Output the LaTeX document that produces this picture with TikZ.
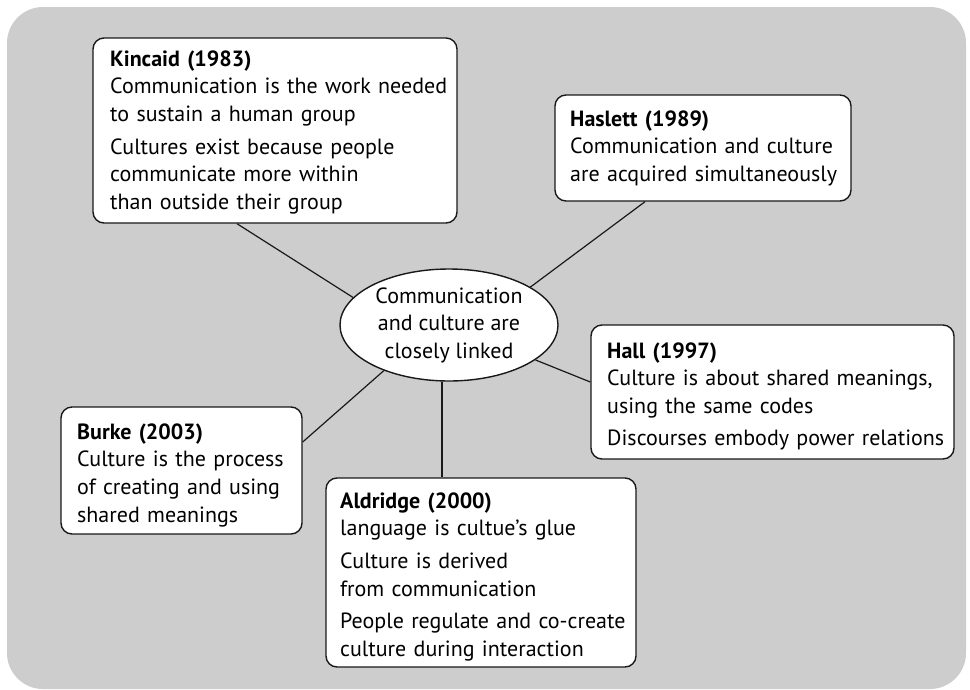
\documentclass[tikz,border=0pt]{standalone}
\usepackage{fontspec}
\setmainfont{PT Sans}
\usetikzlibrary{shapes.geometric}
\definecolor{panel}{RGB}{205,205,205}
\definecolor{ink}{RGB}{25,25,25}
\begin{document}
\begin{tikzpicture}[x=1pt,y=-1pt,
  card/.style={draw=ink, line width=1.4pt, fill=white, rounded corners=11pt,
    inner sep=0pt},
  txt/.style={anchor=base west, inner sep=0pt, align=left,
    font=\fontsize{22}{27.7}\selectfont},
  hub/.style={ellipse, draw=ink, line width=1.4pt, fill=white, inner sep=0pt,
    minimum width=218pt, minimum height=112pt, align=center,
    font=\fontsize{22}{27.5}\selectfont},
  link/.style={draw=ink, line width=1.2pt}]
\useasboundingbox (0,0) rectangle (970,689);
% grey panel
\fill[panel, rounded corners=36pt] (7,7) rectangle (966,689);

% central ellipse
\node[hub] (hub) at (449,325) {Communication\\and culture are\\closely linked};

% cards
\node[card, minimum width=364pt, minimum height=185pt] (kin) at (275,130.5) {};
\node[card, minimum width=296pt, minimum height=106pt] (has) at (703,148) {};
\node[card, minimum width=363pt, minimum height=134pt] (hall) at (772.5,392) {};
\node[card, minimum width=241pt, minimum height=127pt] (burke) at (181.5,470.5) {};
\node[card, minimum width=310pt, minimum height=189pt] (ald) at (481,572.5) {};

% card texts
\node[txt, text width=345pt] (kint) at (110,66)
  {\textbf{Kincaid (1983)}\\
   Communication is the work needed\\
   to sustain a human group\\[5pt]
   Cultures exist because people\\
   communicate more within\\
   than outside their group};
\node[txt, text width=280pt] (hast) at (570,126)
  {\textbf{Haslett (1989)}\\
   Communication and culture\\
   are acquired simultaneously};
\node[txt, text width=345pt] (hallt) at (607,358)
  {\textbf{Hall (1997)}\\
   Culture is about shared meanings,\\
   using the same codes\\[4pt]
   Discourses embody power relations};
\node[txt, text width=225pt] (burket) at (77,439)
  {\textbf{Burke (2003)}\\
   Culture is the process\\
   of creating and using\\
   shared meanings};
\node[txt, text width=295pt] (aldt) at (340,508)
  {\textbf{Aldridge (2000)}\\
   language is cultue’s glue\\[5pt]
   Culture is derived\\
   from communication\\[5pt]
   People regulate and co-create\\
   culture during interaction};

% connectors
\draw[link] ([xshift=-38pt]kin.south) -- (hub.164.4);
\draw[link] ([xshift=-58pt]has.south) -- (hub.25.7);
\draw[link] ([yshift=10pt]hall.west) -- (hub.-22.7);
\draw[link] ([yshift=28.5pt]burke.east) -- (hub.215.5);
\draw[link] ([xshift=-7pt]hub.south) -- ([xshift=-7pt]hub.south |- ald.north);
\end{tikzpicture}
\end{document}
